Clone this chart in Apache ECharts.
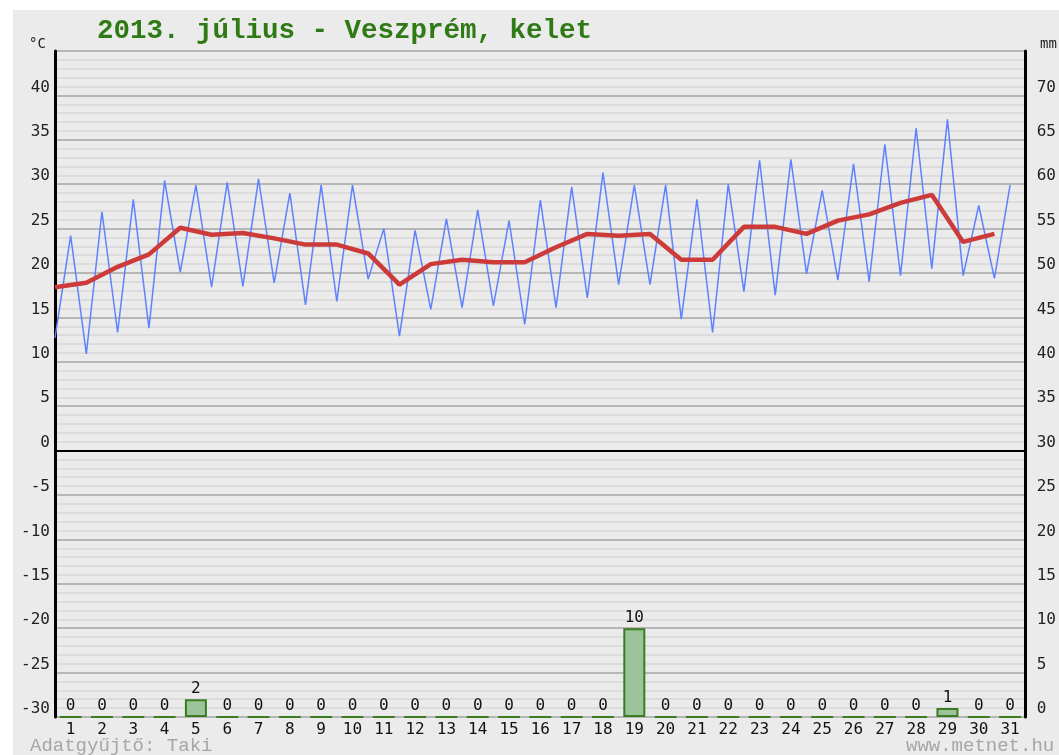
<!DOCTYPE html>
<html>
<head>
<meta charset="utf-8">
<script src="https://cdn.jsdelivr.net/npm/echarts@6/dist/echarts.min.js"></script>
<style>
  html, body { margin: 0; padding: 0; background: #ffffff; }
  #chart { width: 1059px; height: 755px; }
</style>
</head>
<body>
<div id="chart"></div>
<script>
// Days of July 2013
const days = Array.from({ length: 31 }, (_, i) => String(i + 1));

// Daily minimum temperature (°C)
const tMin = [12.7, 10.9, 13.3, 13.8, 20.1, 18.4, 18.5, 18.9, 16.4, 16.8,
              19.3, 12.9, 15.9, 16.1, 16.3, 14.2, 16.1, 17.2, 18.7, 18.7,
              14.8, 13.3, 17.9, 17.5, 19.9, 19.2, 19.0, 19.7, 20.5, 19.7, 19.4];

// Daily maximum temperature (°C)
const tMax = [24.2, 26.9, 28.3, 30.4, 29.9, 30.2, 30.6, 29.0, 29.9, 29.9,
              25.0, 24.8, 26.1, 27.1, 25.9, 28.2, 29.7, 31.3, 29.9, 29.9,
              28.3, 30.0, 32.7, 32.8, 29.3, 32.3, 34.5, 36.3, 37.3, 27.6, 29.9];

// Daily mean temperature (°C)
const tMean = [18.4, 18.9, 20.7, 22.1, 25.1, 24.3, 24.5, 23.9, 23.2, 23.2,
               22.2, 18.7, 21.0, 21.5, 21.2, 21.2, 22.9, 24.4, 24.2, 24.4,
               21.5, 21.5, 25.2, 25.2, 24.4, 25.9, 26.6, 27.9, 28.8, 23.5, 24.4];

// Daily precipitation (mm)
const precip = [0, 0, 0, 0, 2, 0, 0, 0, 0, 0,
                0, 0, 0, 0, 0, 0, 0, 0, 10, 0,
                0, 0, 0, 0, 0, 0, 0, 0, 1, 0, 0];

// Tick label sets
const tempTicks = [-30, -25, -20, -15, -10, -5, 0, 5, 10, 15, 20, 25, 30, 35, 40];
const rainTicks = [0, 5, 10, 15, 20, 25, 30, 35, 40, 45, 50, 55, 60, 65, 70];

// Half-day positions: minimum at the start of each day, maximum at its middle
const minMaxLine = [];
tMin.forEach((v, i) => {
  minMaxLine.push([2 * i, v]);
  minMaxLine.push([2 * i + 1, tMax[i]]);
});
const meanLine = tMean.map((v, i) => [2 * i, v]);

const mono = 'DejaVu Sans Mono';
const chart = echarts.init(document.getElementById('chart'), null, { renderer: 'canvas' });

chart.setOption({
  animation: false,
  backgroundColor: '#ffffff',
  graphic: [
    { type: 'rect', z: -10, silent: true,
      shape: { x: 13, y: 10, width: 1046, height: 745 },
      style: { fill: '#ebebeb' } },
    { type: 'text', x: 97, y: 31, silent: true,
      style: { text: '2013. július - Veszprém, kelet', fill: '#2f7a14',
               font: 'bold 27.5px "Liberation Mono"', verticalAlign: 'middle' } },
    { type: 'text', x: 29, y: 44, silent: true,
      style: { text: '°C', fill: '#222', font: '14px "' + mono + '"', verticalAlign: 'middle' } },
    { type: 'text', x: 1040, y: 44, silent: true,
      style: { text: 'mm', fill: '#222', font: '14px "' + mono + '"', verticalAlign: 'middle' } },
    { type: 'text', x: 30, y: 746, silent: true,
      style: { text: 'Adatgyűjtő: Taki', fill: '#a6a6a6', font: '19px "Liberation Mono"', verticalAlign: 'middle' } },
    { type: 'text', x: 906, y: 746, silent: true,
      style: { text: 'www.metnet.hu', fill: '#a6a6a6', font: '19px "Liberation Mono"', verticalAlign: 'middle' } }
  ],
  grid: { left: 55, right: 28, top: 51, bottom: 38, containLabel: false },
  xAxis: [
    {
      type: 'category', data: days, boundaryGap: true,
      axisLine: { show: false }, axisTick: { show: false },
      axisLabel: { color: '#111', fontFamily: mono, fontSize: 16, margin: 5, interval: 0 },
      splitLine: { show: false }
    },
    { type: 'value', min: 0, max: 62, show: false }
  ],
  yAxis: [
    {
      type: 'value', position: 'left', min: -30, max: 45, interval: 5,
      axisLine: { show: true, lineStyle: { color: '#000', width: 3 } },
      axisTick: { show: false },
      axisLabel: {
        color: '#222', fontFamily: mono, fontSize: 16, margin: 5, verticalAlign: 'bottom',
        formatter: v => (tempTicks.includes(v) ? String(v) : '')
      },
      splitLine: { show: true, lineStyle: { color: '#a4a4a4', width: 1.5 } },
      minorTick: { show: false, splitNumber: 5 },
      minorSplitLine: { show: true, lineStyle: { color: '#d8d8d8', width: 1.5 } }
    },
    {
      type: 'value', position: 'right', min: 0, max: 75, interval: 5,
      axisLine: { show: true, lineStyle: { color: '#000', width: 3 } },
      axisTick: { show: false },
      axisLabel: {
        color: '#222', fontFamily: mono, fontSize: 16, margin: 11, verticalAlign: 'bottom',
        formatter: v => (rainTicks.includes(v) ? String(v) : '')
      },
      splitLine: { show: false }
    }
  ],
  series: [
    {
      name: 'csapadék', type: 'bar', xAxisIndex: 0, yAxisIndex: 1,
      data: precip, barWidth: 22, z: 1,
      itemStyle: { color: '#9cc49a', borderColor: '#3c7d22', borderWidth: 2 },
      label: { show: true, position: 'top', distance: 2, color: '#111', fontFamily: mono, fontSize: 16 }
    },
    {
      name: 'min/max', type: 'line', xAxisIndex: 1, yAxisIndex: 0,
      data: minMaxLine, symbol: 'none', z: 3,
      lineStyle: { color: '#5e82ff', width: 1.5 },
      markLine: {
        silent: true, symbol: 'none', label: { show: false },
        lineStyle: { color: '#000', width: 2, type: 'solid' },
        data: [{ yAxis: 0 }]
      }
    },
    {
      name: 'átlag', type: 'line', xAxisIndex: 1, yAxisIndex: 0,
      data: meanLine, symbol: 'none', z: 4,
      lineStyle: { color: '#cc3a3a', width: 4.5 }
    }
  ]
});
</script>
</body>
</html>
